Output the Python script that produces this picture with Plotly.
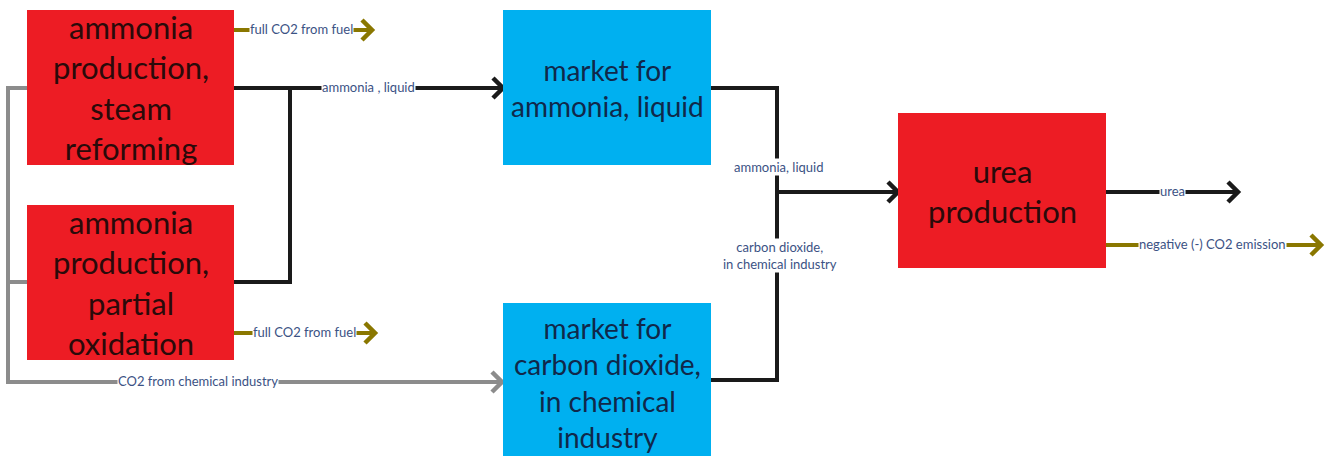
import plotly.graph_objects as go

# ---- content ----
node_labels = [
    "ammonia<br>production,<br>steam<br>reforming",
    "ammonia<br>production,<br>partial<br>oxidation",
    "market for<br>ammonia, liquid",
    "market for<br>carbon dioxide,<br>in chemical<br>industry",
    "urea<br>production",
]
node_kinds = ["process", "process", "market", "market", "process"]
flow_labels = [
    "full CO2 from fuel", "ammonia , liquid", "full CO2 from fuel",
    "CO2 from chemical industry", "ammonia, liquid",
    "carbon dioxide,<br>in chemical industry", "urea", "negative (-) CO2 emission",
]

# ---- layout geometry (pixels) ----
node_boxes = [  # x0, y0, x1, y1
    (27, 10, 234, 165),
    (27, 205, 234, 360),
    (503, 10, 711, 165),
    (503, 303, 711, 470),
    (898, 113, 1106, 268),
]
RED = "#ED1C24"
BLUE = "#00B0F0"
GOLD = "#8A7700"
GRAY = "#8C8C8C"
BLACK = "#1A1A1A"
LBL = "#3B5284"
FONT = "Lato, Open Sans, sans-serif"

fig = go.Figure()
shapes = []
annos = []

def line(pts, color, w=4):
    path = "M " + " L ".join(f"{x},{y}" for x, y in pts)
    shapes.append(dict(type="path", path=path, line=dict(color=color, width=w),
                       xref="x", yref="y", layer="below"))

def chevron(x, y, color, s=10, w=4.5):
    path = f"M {x-s},{y-s} L {x},{y} L {x-s},{y+s}"
    shapes.append(dict(type="path", path=path, line=dict(color=color, width=w),
                       xref="x", yref="y", layer="above"))

def label(x, y, text, size=13):
    annos.append(dict(x=x, y=y, text=text, showarrow=False, xref="x", yref="y",
                      font=dict(family=FONT, size=size, color=LBL),
                      bgcolor="white", borderpad=0))

# gray CO2 loop
line([(27, 88), (8, 88), (8, 382), (500, 382)], GRAY)
line([(8, 282), (27, 282)], GRAY)
chevron(502, 382, GRAY)
label(198, 381, flow_labels[3])

# black ammonia lines
line([(234, 88), (500, 88)], BLACK)
line([(234, 282), (290, 282), (290, 88)], BLACK)
chevron(503, 88, BLACK)
label(368, 87, flow_labels[1])

# gold fuel arrows
line([(234, 30), (370, 30)], GOLD)
chevron(372, 30, GOLD)
label(301, 29, flow_labels[0])
line([(234, 333), (372, 333)], GOLD)
chevron(375, 333, GOLD)
label(304, 332, flow_labels[2])

# market -> urea
line([(711, 88), (777, 88), (777, 380), (711, 380)], BLACK)
line([(777, 192), (896, 192)], BLACK)
chevron(898, 192, BLACK)
label(778, 167, flow_labels[4])
label(780, 255, flow_labels[5])

# urea outputs
line([(1106, 192), (1236, 192)], BLACK)
chevron(1238, 192, BLACK)
label(1172, 191, flow_labels[6])
line([(1106, 245), (1318, 245)], GOLD)
chevron(1321, 245, GOLD)
label(1212, 244, flow_labels[7])

# nodes
for (x0, y0, x1, y1), text, kind in zip(node_boxes, node_labels, node_kinds):
    fill = RED if kind == "process" else BLUE
    tcol = "#2A0A0A" if kind == "process" else "#10284A"
    size = 31 if kind == "process" else 28
    yc = (y0 + y1) / 2
    if kind == "market" and y1 > 456:
        yc = 382
    shapes.append(dict(type="rect", x0=x0, y0=y0, x1=x1, y1=y1, xref="x", yref="y",
                       fillcolor=fill, line=dict(width=0), layer="above"))
    annos.append(dict(x=(x0 + x1) / 2, y=yc,
                      text=text, showarrow=False, xref="x", yref="y",
                      font=dict(family=FONT, size=size, color=tcol),
                      align="center"))

fig.update_layout(
    width=1330, height=456,
    margin=dict(l=0, r=0, t=0, b=0),
    paper_bgcolor="white", plot_bgcolor="white",
    xaxis=dict(range=[0, 1330], visible=False, fixedrange=True),
    yaxis=dict(range=[456, 0], visible=False, fixedrange=True),
    shapes=shapes, annotations=annos, showlegend=False,
)
fig.write_html(
    "out.html",
    config={"displayModeBar": False},
    post_script="document.body.style.margin='0';document.documentElement.style.overflow='hidden';",
)
